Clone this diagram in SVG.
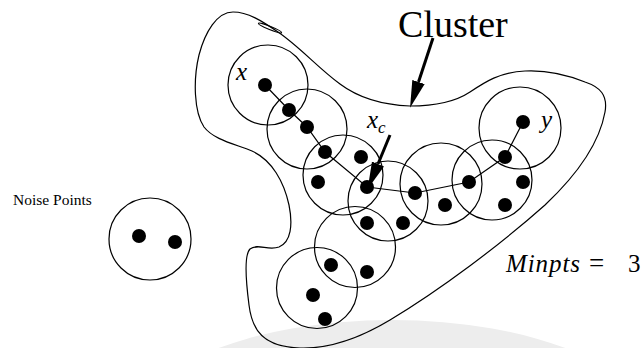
<svg xmlns="http://www.w3.org/2000/svg" width="644" height="348" viewBox="0 0 644 348">
  <style>
    .ring { fill: none; stroke: #000; stroke-width: 1.2; }
    .pt { fill: #000; }
    .chain { fill: none; stroke: #000; stroke-width: 1.2; }
    .boundary { fill: none; stroke: #000; stroke-width: 1.2; }
    .pointer { stroke: #000; stroke-width: 3; fill: none; }
    .serif { font-family: "Liberation Serif", "Times New Roman", serif; fill: #000; }
    .math { font-family: "Liberation Serif", "Times New Roman", serif; font-style: italic; fill: #000; }
  </style>
  <defs>
    <marker id="head" viewBox="0 -7 27 14" refX="0" refY="0" markerWidth="27" markerHeight="14" markerUnits="userSpaceOnUse" orient="auto">
      <path d="M0,-6.5 L27,0 L0,6.5 Z" fill="#000"/>
    </marker>
  </defs>

  <rect width="644" height="348" fill="#fff"/>
  <!-- faint backdrop band -->
  <ellipse cx="392" cy="432" rx="262" ry="112" fill="#ededed"/>

  <!-- cluster outline -->
  <g id="cluster-boundary">
    <path class="boundary" d="M 233,12
      C 217,12 205,32 199,55
      C 193,80 194,112 204,127
      C 214,140 235,144 252,151
      C 272,160 284,182 289,205
      C 293,225 291,242 279,247
      C 268,251 258,243 250,249
      C 244,255 246,282 249,305
      C 252,330 263,347 300,348
      C 330,349 360,338 390,320
      C 440,290 500,245 545,205
      C 580,172 600,140 605,112
      C 608,95 600,87 585,82
      C 565,74 545,70 525,71
      C 500,72 485,82 470,92
      C 455,102 435,106 410,106
      C 385,105 360,99 340,84
      C 318,68 300,47 278,32
      C 262,21 248,12 233,12 Z"/>
    <ellipse cx="270" cy="28" rx="12.5" ry="1.6" transform="rotate(22 270 28)" class="boundary"/>
  </g>

  <!-- chain linking x to y -->
  <g id="connectors">
    <polyline class="chain" points="265,85 289,110 307,127 325,152 367,187 415,193 469,182 505,157 523,122"/>
    <line class="pointer" x1="433" y1="38" x2="418.5" y2="82" marker-end="url(#head)"/>
    <line class="pointer" x1="390" y1="135" x2="378" y2="164" marker-end="url(#head)"/>
  </g>

  <g id="n-x">
    <circle class="ring" cx="268" cy="85" r="40"/>
    <circle class="pt" cx="265" cy="85" r="7"/>
  </g>
  <g id="n-2">
    <circle class="ring" cx="307" cy="129" r="40"/>
    <circle class="pt" cx="289" cy="110" r="7"/>
    <circle class="pt" cx="307" cy="127" r="7"/>
  </g>
  <g id="n-3">
    <circle class="ring" cx="343" cy="175" r="40"/>
    <circle class="pt" cx="325" cy="152" r="7"/>
    <circle class="pt" cx="361" cy="157" r="7"/>
    <circle class="pt" cx="318" cy="182" r="7"/>
  </g>
  <g id="n-xc">
    <circle class="ring" cx="388" cy="201" r="40"/>
    <circle class="pt" cx="367" cy="187" r="7"/>
    <circle class="pt" cx="367" cy="223" r="7"/>
    <circle class="pt" cx="403" cy="223" r="7"/>
  </g>
  <g id="n-5">
    <circle class="ring" cx="355" cy="247" r="40.5"/>
    <circle class="pt" cx="331" cy="265" r="7"/>
    <circle class="pt" cx="367" cy="272" r="7"/>
  </g>
  <g id="n-6">
    <circle class="ring" cx="317" cy="288" r="40.5"/>
    <circle class="pt" cx="313" cy="295" r="7"/>
    <circle class="pt" cx="325" cy="319" r="7"/>
  </g>
  <g id="n-7">
    <circle class="ring" cx="441" cy="184" r="41"/>
    <circle class="pt" cx="415" cy="193" r="7"/>
    <circle class="pt" cx="445" cy="205" r="7"/>
  </g>
  <g id="n-8">
    <circle class="ring" cx="492" cy="180" r="40"/>
    <circle class="pt" cx="469" cy="182" r="7"/>
    <circle class="pt" cx="523" cy="182" r="7"/>
    <circle class="pt" cx="505" cy="205" r="7"/>
  </g>
  <g id="n-y">
    <circle class="ring" cx="520" cy="128" r="41"/>
    <circle class="pt" cx="523" cy="122" r="7"/>
    <circle class="pt" cx="505" cy="157" r="7"/>
  </g>
  <g id="n-noise">
    <circle class="ring" cx="150" cy="239" r="41"/>
    <circle class="pt" cx="139" cy="236" r="7"/>
    <circle class="pt" cx="175" cy="242" r="7"/>
  </g>

  <!-- labels -->
  <g id="labels">
    <text class="serif" x="398" y="37" font-size="38">Cluster</text>
    <text class="serif" x="13" y="205" font-size="15.5">Noise Points</text>
    <text class="math" x="236" y="80" font-size="25">x</text>
    <text class="math" x="367" y="128" font-size="25">x<tspan font-size="17" dy="5">c</tspan></text>
    <text class="math" x="541" y="128" font-size="25">y</text>
    <text class="math" x="506" y="272" font-size="25"><tspan textLength="74" lengthAdjust="spacing">Minpts</tspan><tspan font-style="normal" x="589" font-size="27">=</tspan><tspan font-style="normal" x="628">3</tspan></text>
  </g>
</svg>
